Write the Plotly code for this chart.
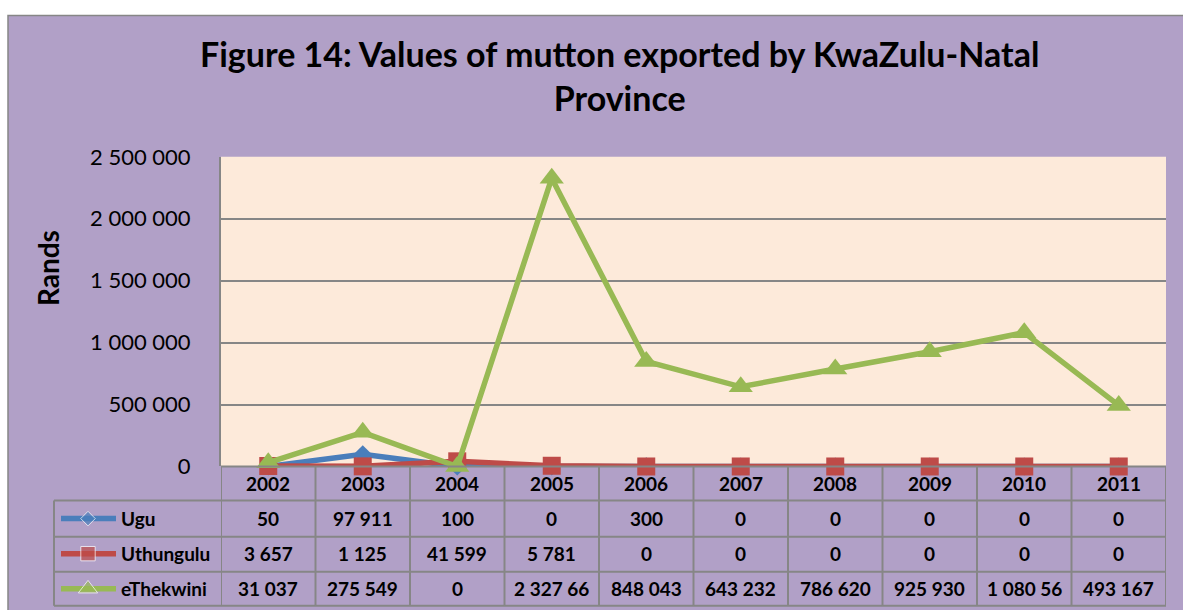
import plotly.graph_objects as go

years = [2002, 2003, 2004, 2005, 2006, 2007, 2008, 2009, 2010, 2011]
ugu = [50, 97911, 100, 0, 300, 0, 0, 0, 0, 0]
uthungulu = [3657, 1125, 41599, 5781, 0, 0, 0, 0, 0, 0]
ethekwini = [31037, 275549, 0, 2327660, 848043, 643232, 786620, 925930, 1080560, 493167]
y_ticks = [0, 500000, 1000000, 1500000, 2000000, 2500000]

series = [
    ("Ugu", ugu, "#4a7ebb", "diamond", 14),
    ("Uthungulu", uthungulu, "#be4b48", "square", 18),
    ("eThekwini", ethekwini, "#98b954", "triangle-up", 21),
]

PURPLE = "#b1a0c7"
PEACH = "#fdeada"
GRID = "#868686"
FONT = "Lato"

W, H = 1183, 622
# the snapshot maps page row y to picture row K * (y + D)
K, D = 0.9545, 15.2


def page_y(t):
    return t / K - D


def fx(px):
    return px / W


def fy(t):
    return 1 - page_y(t) / H


def fmt(v):
    # thousands separated by spaces, clipped to cell width like the source
    return f"{v:,}".replace(",", " ")[:8]


fig = go.Figure()

for name, vals, color, sym, size in series:
    fig.add_trace(
        go.Scatter(
            x=years,
            y=vals,
            mode="lines+markers",
            name=name,
            line=dict(color=color, width=5.5),
            marker=dict(color=color, symbol=sym, size=size),
            cliponaxis=False,
            showlegend=False,
        )
    )

# table rows (picture rows)
rules = [466, 500, 536, 571, 605]
row_y = {"Ugu": 518, "Uthungulu": 553, "eThekwini": 588}

# legend keys inside the data table (drawn on a full-page pixel axis)
for name, vals, color, sym, size in series:
    fig.add_trace(
        go.Scatter(
            x=[61, 88, 116],
            y=[page_y(row_y[name])] * 3,
            xaxis="x2",
            yaxis="y2",
            mode="lines+markers",
            line=dict(color=color, width=5.5),
            marker=dict(color=color, symbol=sym, size=[0, size * 0.8, 0]),
            showlegend=False,
            hoverinfo="skip",
        )
    )

shapes = []
# page background
shapes.append(dict(type="rect", xref="paper", yref="paper", x0=fx(8), x1=fx(1200),
                   y0=fy(660), y1=fy(16), fillcolor=PURPLE,
                   line=dict(color=GRID, width=1.5), layer="below"))
# plot area fill
shapes.append(dict(type="rect", xref="paper", yref="paper", x0=fx(221), x1=fx(1166),
                   y0=fy(466), y1=fy(157), fillcolor=PEACH, line=dict(width=0),
                   layer="below"))
# table horizontal rules
for i, py in enumerate(rules):
    x0 = 221 if i == 0 else 54
    shapes.append(dict(type="line", xref="paper", yref="paper", x0=fx(x0), x1=fx(1166),
                       y0=fy(py), y1=fy(py), line=dict(color=GRID, width=2)))
# table vertical rules
shapes.append(dict(type="line", xref="paper", yref="paper", x0=fx(54), x1=fx(54),
                   y0=fy(rules[1]), y1=fy(rules[-1]), line=dict(color=GRID, width=2)))
for b in [y - 0.5 for y in years] + [years[-1] + 0.5]:
    shapes.append(dict(type="line", xref="x", yref="paper", x0=b, x1=b,
                       y0=fy(rules[0]), y1=fy(rules[-1]), line=dict(color=GRID, width=2)))

annotations = [
    dict(text="<b>Figure 14: Values of mutton exported by KwaZulu-Natal<br>Province</b>",
         x=fx(620), y=fy(76), xref="paper", yref="paper", showarrow=False,
         xanchor="center", yanchor="middle", font=dict(size=34, color="black")),
    dict(text="<b>Rands</b>", x=fx(48), y=fy(268), xref="paper", yref="paper",
         showarrow=False, textangle=-90, xanchor="center", yanchor="middle",
         font=dict(size=28, color="black")),
]
for yr in years:
    annotations.append(dict(text=f"<b>{yr}</b>", x=yr, y=fy(483), xref="x", yref="paper",
                            showarrow=False, xanchor="center", yanchor="middle",
                            font=dict(size=19, color="black")))
for name, vals, color, sym, size in series:
    annotations.append(dict(text=f"<b>{name}</b>", x=fx(119), y=fy(row_y[name]),
                            xref="paper", yref="paper", xanchor="left", yanchor="middle",
                            showarrow=False, font=dict(size=19, color="black")))
    for yr, v in zip(years, vals):
        annotations.append(dict(text=f"<b>{fmt(v)}</b>", x=yr, y=fy(row_y[name]),
                                xref="x", yref="paper", showarrow=False,
                                xanchor="center", yanchor="middle",
                                font=dict(size=19, color="black")))

fig.update_layout(
    width=W,
    height=H,
    margin=dict(l=0, r=0, t=0, b=0),
    paper_bgcolor="white",
    plot_bgcolor="rgba(0,0,0,0)",
    separators=". ",
    font=dict(family=FONT, color="black"),
    xaxis=dict(domain=[fx(221), fx(1166)], range=[2001.5, 2011.5], showgrid=False,
               zeroline=False, showticklabels=False, showline=False, fixedrange=True),
    yaxis=dict(domain=[fy(466), fy(157)], range=[0, 2500000], tickvals=y_ticks,
               tickformat=",d", showgrid=True, gridcolor=GRID, gridwidth=2,
               zeroline=False, showline=True, linecolor=GRID, linewidth=2,
               ticks="", ticklabelstandoff=24, tickfont=dict(size=22, color="black"),
               fixedrange=True),
    xaxis2=dict(domain=[0, 1], range=[0, W], visible=False, anchor="y2",
                fixedrange=True),
    yaxis2=dict(domain=[0, 1], range=[H, 0], visible=False, anchor="x2",
                fixedrange=True),
    shapes=shapes,
    annotations=annotations,
)

# place the figure flush with the page corner, no mode bar
fig.write_html(
    "out.html",
    config={"displayModeBar": False},
    post_script="document.body.style.margin = '0'; document.body.style.overflow = 'hidden';",
)
